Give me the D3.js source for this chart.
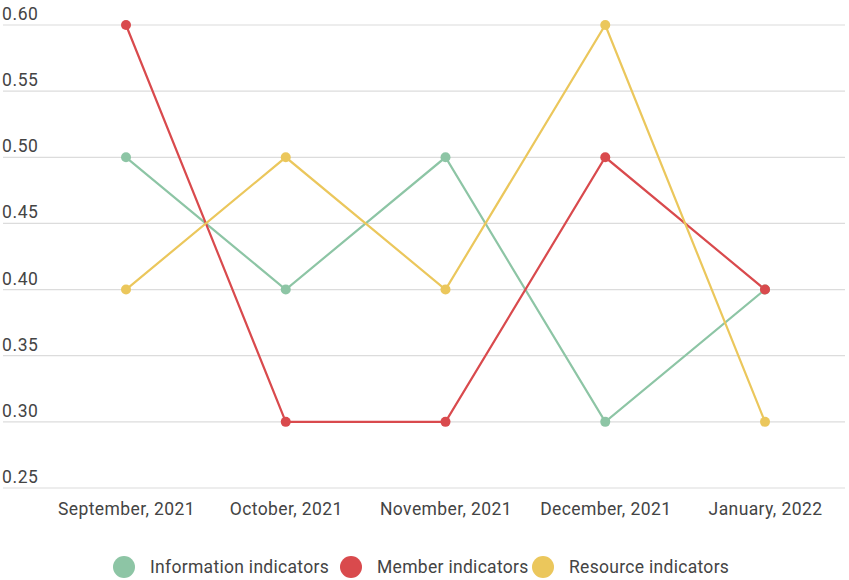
<!DOCTYPE html>
<html>
<head>
  <meta charset="utf-8">
  <title>Indicators</title>
  <script src="https://d3js.org/d3.v7.min.js"></script>
  <style>
    body { margin: 0; background: #fff; }
    text { font-family: Roboto, sans-serif; }
  </style>
</head>
<body>
  <svg id="grafico"></svg>
  <script>
    const meses = ["September, 2021", "October, 2021", "November, 2021", "December, 2021", "January, 2022"];
    const informacion = [0.50, 0.40, 0.50, 0.30, 0.40];
    const miembros = [0.60, 0.30, 0.30, 0.50, 0.40];
    const recursos = [0.40, 0.50, 0.40, 0.60, 0.30];
    const ticksY = [0.25, 0.30, 0.35, 0.40, 0.45, 0.50, 0.55, 0.60];

    const series = [
      { name: "Information indicators", values: informacion, color: "#8dc5a5" },
      { name: "Member indicators", values: miembros, color: "#d94a4d" },
      { name: "Resource indicators", values: recursos, color: "#ebc75c" }
    ];

    const width = 849, height = 580;
    const svg = d3.select("#grafico").attr("width", width).attr("height", height);

    const x = d3.scalePoint().domain(meses).range([126, 765]);
    const y = d3.scaleLinear().domain([0.25, 0.60]).range([488, 25]);

    // rejilla
    const rejilla = svg.append("g");
    rejilla.selectAll("line")
      .data(ticksY)
      .enter()
      .append("line")
      .attr("x1", 3).attr("x2", 845)
      .attr("y1", d => y(d)).attr("y2", d => y(d))
      .style("stroke", "#dcdcdc")
      .style("stroke-width", 1.2);

    rejilla.selectAll("text")
      .data(ticksY)
      .enter()
      .append("text")
      .attr("x", 2)
      .attr("y", d => y(d) - 5)
      .text(d => d3.format(".2f")(d))
      .style("font-size", "17.5px")
      .style("letter-spacing", "0.6px")
      .style("fill", "#444");

    // eje x
    const ejeX = svg.append("g")
      .attr("transform", "translate(0,488)")
      .call(d3.axisBottom(x).tickSize(0).tickPadding(15));
    ejeX.select(".domain").remove();
    ejeX.selectAll("text")
      .style("font-size", "17.5px")
      .style("letter-spacing", "0.4px")
      .style("font-family", "Roboto, sans-serif")
      .style("fill", "#444");

    const linea = d3.line()
      .x((d, i) => x(meses[i]))
      .y(d => y(d));

    series.forEach(s => {
      svg.append("path")
        .datum(s.values)
        .attr("d", linea)
        .style("fill", "none")
        .style("stroke", s.color)
        .style("stroke-width", 2.2);
    });

    series.forEach(s => {
      svg.selectAll(null)
        .data(s.values)
        .enter()
        .append("circle")
        .attr("cx", (d, i) => x(meses[i]))
        .attr("cy", d => y(d))
        .attr("r", 5)
        .style("fill", s.color);
    });

    // leyenda
    const posLeyenda = [124, 351, 543];
    const leyenda = svg.selectAll(".leyenda")
      .data(series)
      .enter()
      .append("g")
      .attr("class", "leyenda")
      .attr("transform", (d, i) => `translate(${posLeyenda[i]},567)`);

    leyenda.append("circle")
      .attr("r", 11)
      .style("fill", d => d.color);

    leyenda.append("text")
      .attr("x", 26)
      .attr("dy", "0.35em")
      .text(d => d.name)
      .style("font-size", "17.5px")
      .style("letter-spacing", "0.3px")
      .style("fill", "#444");
  </script>
</body>
</html>
